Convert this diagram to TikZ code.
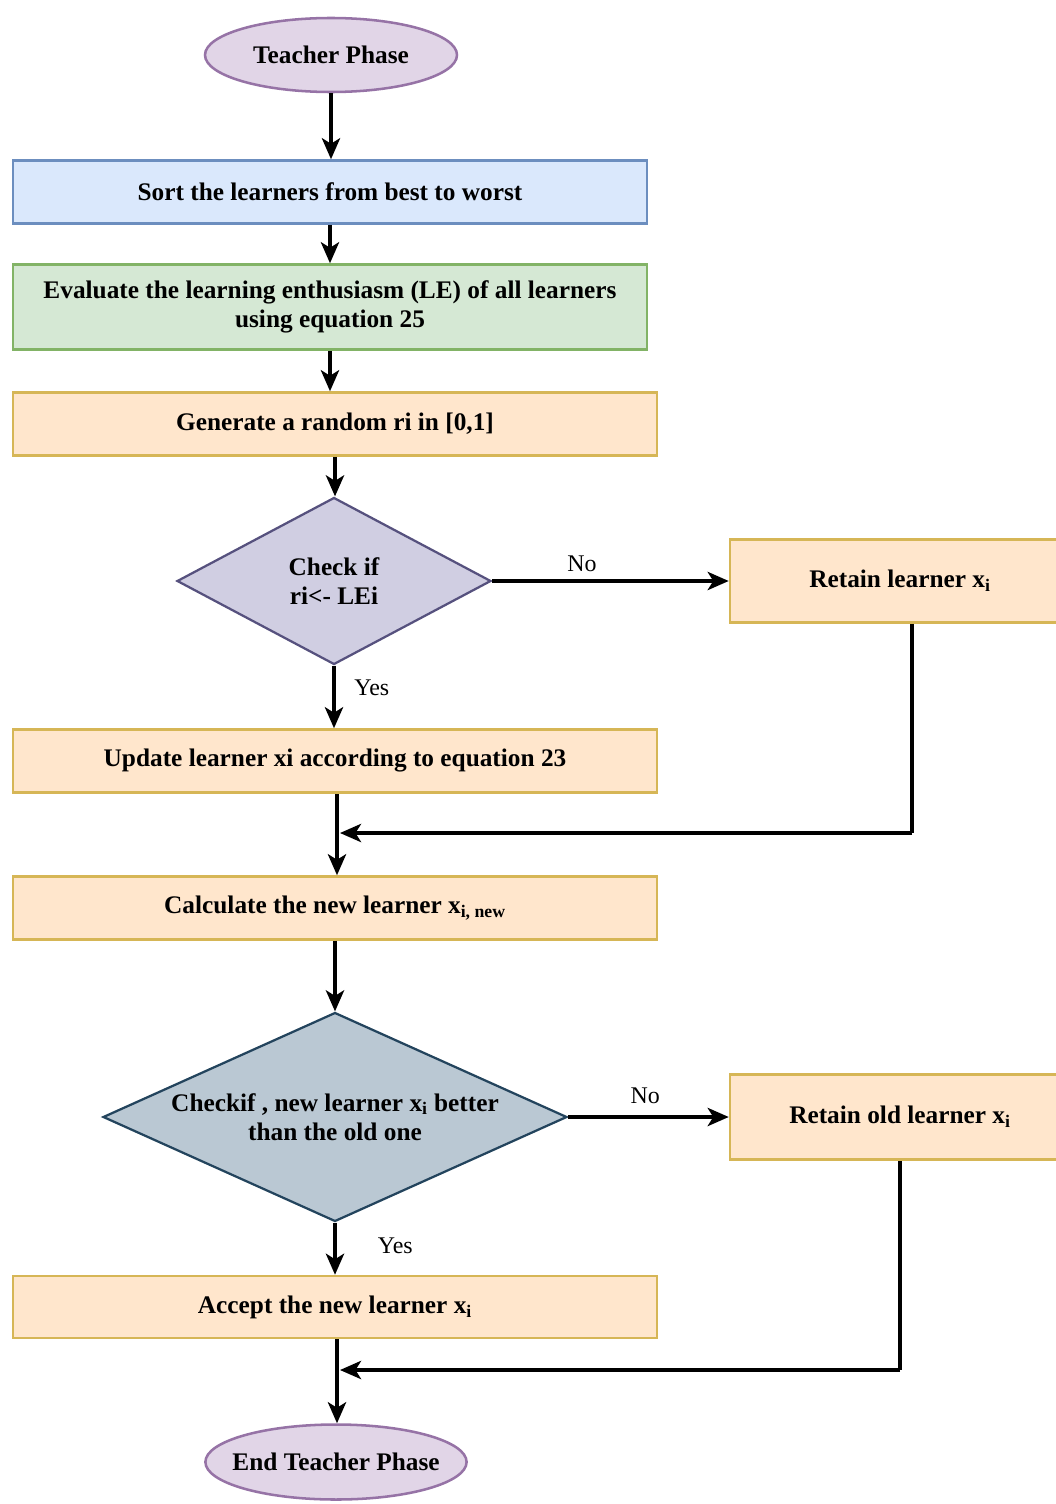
\documentclass[tikz,border=0pt]{standalone}
\usepackage{fontspec}
\setmainfont{Liberation Serif}
\usetikzlibrary{shapes.geometric,arrows.meta}
\definecolor{lilacfill}{HTML}{E1D5E7}
\definecolor{lilacline}{HTML}{9673A6}
\definecolor{bluefill}{HTML}{DAE8FC}
\definecolor{blueline}{HTML}{6C8EBF}
\definecolor{greenfill}{HTML}{D5E8D4}
\definecolor{greenline}{HTML}{82B366}
\definecolor{orangefill}{HTML}{FFE6CC}
\definecolor{orangeline}{HTML}{D6B656}
\definecolor{violetfill}{HTML}{D0CEE2}
\definecolor{violetline}{HTML}{56517E}
\definecolor{slatefill}{HTML}{BAC8D3}
\definecolor{slateline}{HTML}{23445D}
\tikzset{
  terminal/.style={
    ellipse,
    draw=lilacline,
    fill=lilacfill,
    line width=1.8pt,
    font=\fontsize{18}{21}\selectfont\bfseries,
    inner sep=0pt
  },
  process/.style={
    rectangle,
    draw=#1line,
    fill=#1fill,
    line width=1.8pt,
    align=center,
    font=\fontsize{18}{21}\selectfont\bfseries,
    inner sep=0pt
  },
  decision/.style={
    diamond,
    draw=#1line,
    fill=#1fill,
    line width=1.6pt,
    align=center,
    font=\fontsize{18}{21}\selectfont\bfseries,
    inner sep=0pt
  },
  flow/.style={
    draw=black,
    line width=2.4pt,
    -{Stealth[length=15pt,width=13pt,inset=4pt]}
  },
  branch/.style={
    font=\fontsize{17}{20}\selectfont
  }
}

\begin{document}
\begin{tikzpicture}[x=0.025cm,y=-0.025cm]
        \useasboundingbox (0,0) rectangle (1056,1504);

        % main column
        \node[terminal, minimum width=252*0.025cm, minimum height=74*0.025cm] (start) at (331,55) {Teacher Phase};
        \node[process=blue, minimum width=634*0.025cm, minimum height=63*0.025cm] (sort) at (330,192) {Sort the learners from best to worst};
        \node[process=green, minimum width=634*0.025cm, minimum height=85*0.025cm] (eval) at (330,307) {Evaluate the learning enthusiasm (LE) of all learners\\using equation 25};
        \node[process=orange, minimum width=644*0.025cm, minimum height=63*0.025cm] (gen) at (335,424) {Generate a random ri in [0,1]};
        \node[decision=violet, aspect=1.9, minimum width=314*0.025cm, minimum height=167*0.025cm] (chka) at (334,581) {Check if\\ri<- LEi};
        \node[process=orange, minimum width=340*0.025cm, minimum height=83*0.025cm] (reta) at (900,581) {Retain learner x\textsubscript{i}};
        \node[process=orange, minimum width=644*0.025cm, minimum height=63*0.025cm] (upd) at (335,761) {Update learner xi according to equation 23};
        \node[process=orange, minimum width=644*0.025cm, minimum height=63*0.025cm] (calc) at (335,908) {Calculate the new learner x\textsubscript{i, new}};
        \node[decision=slate, aspect=2.2, minimum width=464*0.025cm, minimum height=209*0.025cm] (chkb) at (335,1117) {Checkif , new learner x\textsubscript{i} better\\than the old one};
        \node[process=orange, minimum width=340*0.025cm, minimum height=85*0.025cm] (retb) at (900,1117) {Retain old learner x\textsubscript{i}};
        \node[process=orange, minimum width=644*0.025cm, minimum height=62*0.025cm] (acc) at (335,1307) {Accept the new learner x\textsubscript{i}};
        \node[terminal, inner xsep=-8pt, minimum width=257*0.025cm, minimum height=75*0.025cm] (stop) at (336,1462) {End Teacher Phase};

        % merge points
        \coordinate (ja) at (912,833);
        \coordinate (ma) at (340,833);
        \coordinate (jb) at (900,1370);
        \coordinate (mb) at (340,1370);

        \draw[flow] (start.south) -- (start.south |- sort.north);
        \draw[flow] (sort) -- (eval);
        \draw[flow] (eval.south) -- (eval.south |- gen.north);
        \draw[flow] (gen.south) -- (gen.south |- chka.north);
        \draw[flow] (chka.east) -- node[branch, above=2pt, pos=0.38] {No} (reta.west);
        \draw[flow] (chka.south) -- node[branch, right=10pt, pos=0.35] {Yes} (chka.south |- upd.north);
        \draw[flow, -] (reta.south -| ja) -- (ja);
        \draw[flow] (ja) -- (ma);
        \draw[flow] (upd.south -| 337,0) -- (calc.north -| 337,0);
        \draw[flow] (calc.south) -- (chkb.north);
        \draw[flow] (chkb.east) -- node[branch, above=5pt, pos=0.48] {No} (retb.west);
        \draw[flow] (chkb.south) -- node[branch, right=26pt, pos=0.45] {Yes} (acc.north);
        \draw[flow, -] (retb.south -| jb) -- (jb);
        \draw[flow] (jb) -- (mb);
        \draw[flow] (acc.south -| 337,0) -- (stop.north -| 337,0);
\end{tikzpicture}
\end{document}
